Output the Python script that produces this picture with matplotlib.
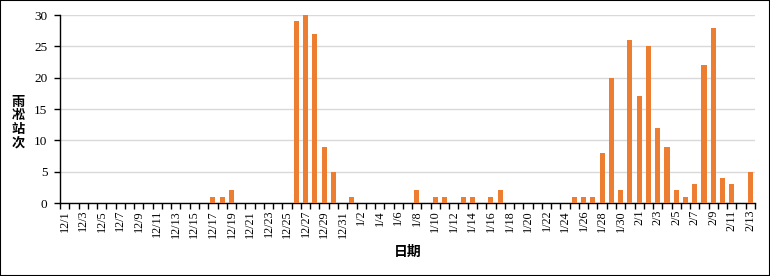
import matplotlib
matplotlib.use('Agg')
import matplotlib.pyplot as plt
from matplotlib.ticker import FixedLocator

# category labels: 12/1 .. 2/13
months = [12, 1, 2]
month_days = [31, 31, 13]
dates = []
for m, n in zip(months, month_days):
    for d in range(1, n + 1):
        dates.append(f"{m}/{d}")

dec_vals = [0]*16 + [1, 1, 2] + [0]*6 + [29, 30, 27, 9, 5, 0]
jan_vals = [1] + [0]*6 + [2, 0, 1, 1, 0, 1, 1, 0, 1, 2] + [0]*7 + [1, 1, 1, 8, 20, 2, 26]
feb_vals = [17, 25, 12, 9, 2, 1, 3, 22, 28, 4, 3, 0, 5]
values = dec_vals + jan_vals + feb_vals

bar_color = '#ED7D31'
serif = 'Liberation Serif'
cjk = ['Noto Sans CJK SC', 'DejaVu Sans']

fig = plt.figure(figsize=(7.7, 2.76), dpi=100)
ax = fig.add_axes([60/770, 1 - 203/276, 695/770, 188/276])

x = list(range(len(values)))
ax.bar(x, values, width=0.55, color=bar_color, zorder=3)

ax.set_xlim(-0.5, len(values) - 0.5)
ax.set_ylim(0, 30)
ax.set_yticks(range(0, 31, 5))
ax.grid(axis='y', color='#d9d9d9', linewidth=1, zorder=0)

# labels every second day, tick marks between every category
ax.set_xticks(x[::2])
ax.set_xticklabels(dates[::2], rotation=90, fontfamily=serif, fontsize=8.7)
ax.xaxis.set_minor_locator(FixedLocator([i - 0.5 for i in range(len(values) + 1)]))
ax.tick_params(axis='x', which='major', length=0, pad=5)
ax.tick_params(axis='x', which='minor', length=4, width=1, direction='out')
ax.tick_params(axis='y', length=4, width=1, direction='out', pad=5)
for lab in ax.get_yticklabels():
    lab.set_fontfamily(serif)
    lab.set_fontsize(9.5)

for s in ['top', 'right']:
    ax.spines[s].set_visible(False)
for s in ['left', 'bottom']:
    ax.spines[s].set_color('black')
    ax.spines[s].set_linewidth(1)

fig.text(18/770, 1 - 122/276, '雨\n凇\n站\n次', family=cjk, fontsize=9.5,
         fontweight='bold', ha='center', va='center', linespacing=0.95)
fig.text(408/770, 1 - 252/276, '日期', family=cjk, fontsize=10,
         fontweight='bold', ha='center', va='center')

# black frame round the whole picture
fig.patches.append(plt.Rectangle((0, 0), 1, 1, transform=fig.transFigure,
                                 fill=False, edgecolor='black', linewidth=1.5))
fig.savefig('out.png', dpi=100, facecolor='white')
